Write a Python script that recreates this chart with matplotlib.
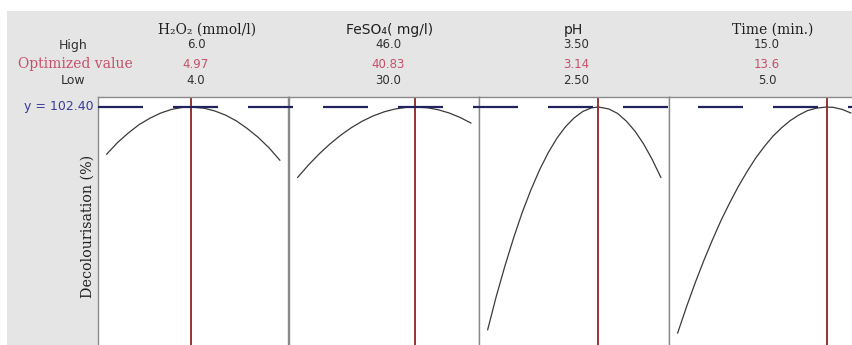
import matplotlib
matplotlib.use('Agg')
import matplotlib.pyplot as plt
from matplotlib.patches import Rectangle
import matplotlib.transforms as mtransforms

plt.rcParams['lines.scale_dashes'] = False

# factor names and settings
factors = ['H\u2082O\u2082 (mmol/l)', 'FeSO\u2084( mg/l)', 'pH', 'Time (min.)']
high_vals = ['6.0', '46.0', '3.50', '15.0']
opt_vals = ['4.97', '40.83', '3.14', '13.6']
low_vals = ['4.0', '30.0', '2.50', '5.0']
opt_x = [4.97, 40.83, 3.14, 13.6]
y_opt = 102.40

# predicted response along each factor
h2o2_x = [4.0, 4.125, 4.25, 4.375, 4.5, 4.625, 4.75, 4.875, 4.97,
          5.125, 5.25, 5.375, 5.5, 5.625, 5.75, 5.875, 6.0]
h2o2_y = [90.6, 93.5, 95.9, 98.0, 99.6, 100.9, 101.8, 102.3, 102.4,
          102.1, 101.4, 100.35, 98.9, 97.0, 94.8, 92.2, 89.1]
feso4_x = [30, 31, 32, 33, 34, 35, 36, 37, 38, 39, 40, 40.83,
           42, 43, 44, 45, 46]
feso4_y = [84.8, 87.9, 90.7, 93.2, 95.4, 97.3, 98.9, 100.2, 101.2, 101.9, 102.3, 102.4,
           102.2, 101.7, 100.9, 99.8, 98.4]
ph_x = [2.5, 2.55, 2.6, 2.65, 2.7, 2.75, 2.8, 2.85, 2.9, 2.95, 3.0, 3.05, 3.1, 3.14,
        3.2, 3.25, 3.3, 3.35, 3.4, 3.45, 3.5]
ph_y = [46.7, 55.1, 62.7, 69.7, 76.1, 81.7, 86.7, 91.0, 94.6, 97.5, 99.7, 101.3, 102.2, 102.4,
        101.9, 100.8, 98.9, 96.4, 93.2, 89.3, 84.8]
time_x = [5, 5.5, 6, 6.5, 7, 7.5, 8, 8.5, 9, 9.5, 10, 10.5, 11, 11.5, 12, 12.5, 13, 13.6,
          14, 14.5, 15]
time_y = [45.9, 52.3, 58.3, 63.9, 69.1, 74.0, 78.4, 82.5, 86.2, 89.6, 92.5, 95.1, 97.2, 99.0,
          100.4, 101.5, 102.1, 102.4, 102.3, 101.8, 100.9]

curves = [(h2o2_x, h2o2_y), (feso4_x, feso4_y), (ph_x, ph_y), (time_x, time_y)]

W, H = 853, 345
fig = plt.figure(figsize=(W / 100, H / 100), dpi=100, facecolor='white')
fig.patches.append(Rectangle((7 / W, 0), 1, 1 - 11 / H, transform=fig.transFigure,
                             facecolor='#e5e5e5', edgecolor='none', zorder=-10))

ylim = (42.9, 104.9)
panel_left = [98, 289, 479, 669]
panel_w = 190.5
top_frac = 1 - 97 / H

serif = ['DejaVu Serif']
sans = ['DejaVu Sans']
title_fonts = [serif, sans, sans, serif]
title_x = [207, 390, 573, 773]
num_x = [196, 388, 576, 767]
red_txt = '#c4506a'

axes = []
for i, (xs, ys) in enumerate(curves):
    ax = fig.add_axes([panel_left[i] / W, 0, panel_w / W, top_frac])
    ax.plot(xs, ys, color='#3a3a3a', lw=0.9)
    ax.axvline(opt_x[i], color='#8e2424', lw=1.3)
    ax.set_ylim(*ylim)
    ax.set_xticks([])
    ax.set_yticks([])
    for s in ['left', 'right', 'top']:
        ax.spines[s].set_color('#8a8a8a')
        ax.spines[s].set_linewidth(1.0)
    ax.spines['bottom'].set_visible(False)
    axes.append(ax)

    fig.text(title_x[i] / W, 1 - 30 / H, factors[i], ha='center', va='center',
             fontsize=10, family=title_fonts[i], color='#202020')
    fig.text(num_x[i] / W, 1 - 45 / H, high_vals[i], ha='center', va='center',
             fontsize=8.5, family=sans, color='#303030')
    fig.text(num_x[i] / W, 1 - 64 / H, opt_vals[i], ha='center', va='center',
             fontsize=8.5, family=sans, color=red_txt)
    fig.text(num_x[i] / W, 1 - 80 / H, low_vals[i], ha='center', va='center',
             fontsize=8.5, family=sans, color='#303030')

# dashed optimum response line across all panels
over = fig.add_axes([98 / W, 0, 1 - 98 / W + 0.02, top_frac], facecolor='none')
over.set_ylim(*ylim)
over.axis('off')
over.axhline(y_opt, color='#22225e', lw=1.6, dashes=(32.4, 21.6))

# row labels
fig.text(73 / W, 1 - 45 / H, 'High', ha='center', va='center', fontsize=9,
         family=sans, color='#303030')
fig.text(75 / W, 1 - 64 / H, 'Optimized value', ha='center', va='center',
         fontsize=10, family=serif, color=red_txt)
fig.text(73 / W, 1 - 80 / H, 'Low', ha='center', va='center', fontsize=9,
         family=sans, color='#303030')

trans = mtransforms.blended_transform_factory(axes[0].transAxes, axes[0].transData)
axes[0].text(-0.025, y_opt, 'y = %.2f' % y_opt, transform=trans, ha='right',
             va='center', fontsize=9, family=sans, color='#3a3a9a')
axes[0].text(-0.018, 0.48, 'Decolourisation (%)', transform=axes[0].transAxes,
             rotation=90, ha='right', va='center', fontsize=10.3, family=serif,
             color='#202020')

fig.savefig('out.png', dpi=100, facecolor=fig.get_facecolor())
